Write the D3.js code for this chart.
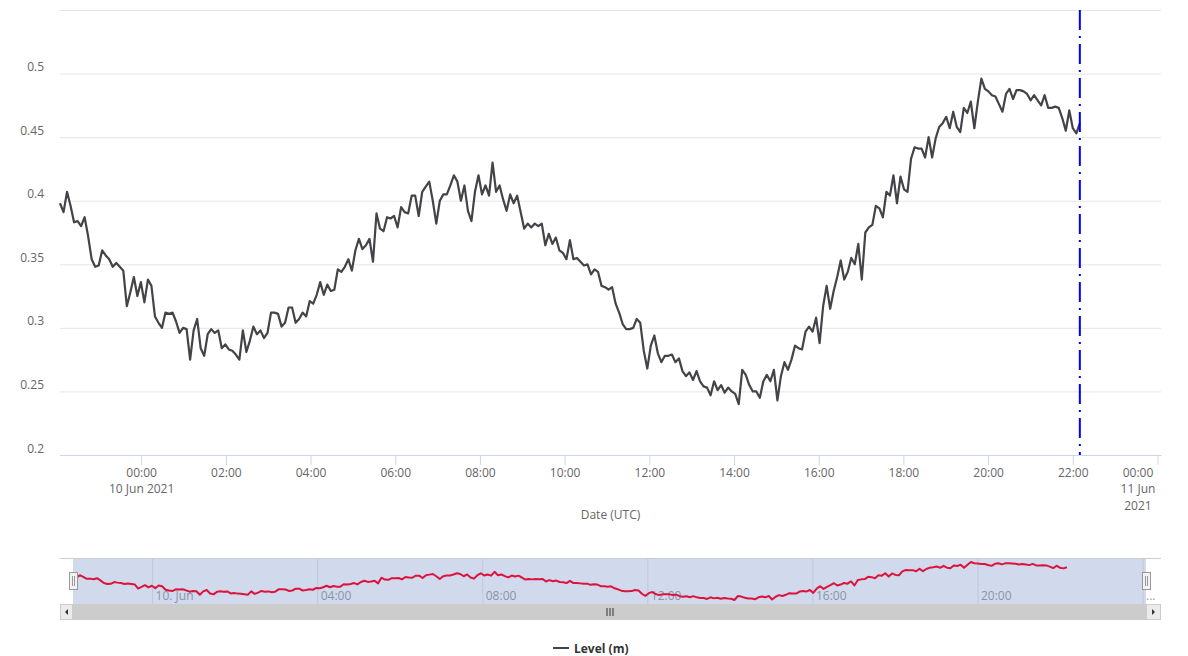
<!DOCTYPE html>
<html>
<head>
<meta charset="utf-8">
<script src="https://cdn.jsdelivr.net/npm/d3@7"></script>
<style>
    body { margin: 0; background: #fff; }
    #level-vis { width: 1188px; height: 656px; }
    text { font-family: "Open Sans", "DejaVu Sans", sans-serif; }
</style>
</head>
<body>
<div id="level-vis"></div>
<script>

// level readings, one every ~5 min from seriesStart to seriesEnd
var levelValues = [
    0.398, 0.391, 0.407, 0.396, 0.383, 0.384, 0.380, 0.387, 0.372, 0.354,
    0.348, 0.349, 0.361, 0.357, 0.354, 0.348, 0.351, 0.348, 0.345, 0.317,
    0.328, 0.340, 0.325, 0.336, 0.320, 0.338, 0.333, 0.309, 0.304, 0.300,
    0.312, 0.311, 0.312, 0.305, 0.296, 0.300, 0.299, 0.275, 0.298, 0.307,
    0.284, 0.278, 0.295, 0.299, 0.296, 0.298, 0.284, 0.287, 0.283, 0.282,
    0.279, 0.275, 0.298, 0.281, 0.290, 0.301, 0.295, 0.298, 0.292, 0.296,
    0.312, 0.312, 0.311, 0.301, 0.304, 0.316, 0.316, 0.304, 0.307, 0.312,
    0.309, 0.321, 0.319, 0.326, 0.336, 0.326, 0.334, 0.329,
    0.330, 0.346, 0.344, 0.348, 0.354, 0.345, 0.361, 0.370, 0.362, 0.365,
    0.370, 0.352, 0.390, 0.378, 0.376, 0.387, 0.386, 0.388, 0.379, 0.395,
    0.391, 0.390, 0.404, 0.404, 0.388, 0.407, 0.411, 0.415, 0.400, 0.382,
    0.400, 0.405, 0.405, 0.412, 0.420, 0.415, 0.400, 0.412, 0.392, 0.384,
    0.407, 0.420, 0.405, 0.412, 0.404, 0.430, 0.407, 0.412, 0.401, 0.392,
    0.405, 0.398, 0.404, 0.391, 0.378, 0.382, 0.379, 0.382, 0.380, 0.382,
    0.365, 0.374, 0.366, 0.371, 0.361, 0.359, 0.354, 0.369, 0.354, 0.355,
    0.352, 0.349, 0.350, 0.342, 0.346, 0.344, 0.333,
    0.332, 0.330, 0.332, 0.319, 0.312, 0.303, 0.299, 0.299, 0.300, 0.307,
    0.304, 0.282, 0.268, 0.286, 0.294, 0.280, 0.273, 0.278, 0.278, 0.279,
    0.273, 0.276, 0.266, 0.262, 0.265, 0.259, 0.266, 0.258, 0.254, 0.253,
    0.247, 0.258, 0.251, 0.255, 0.249, 0.253, 0.250, 0.248, 0.240, 0.267,
    0.263, 0.255, 0.250, 0.250, 0.245, 0.258, 0.263, 0.258, 0.267, 0.243,
    0.262, 0.273, 0.267, 0.275, 0.286, 0.284, 0.283, 0.297, 0.301, 0.297,
    0.308, 0.288, 0.317, 0.333, 0.315, 0.329, 0.340, 0.353, 0.338, 0.344,
    0.355, 0.350, 0.366, 0.338, 0.375, 0.379, 0.381,
    0.396, 0.394, 0.387, 0.407, 0.404, 0.420, 0.398, 0.419, 0.409, 0.407,
    0.433, 0.442, 0.441, 0.441, 0.434, 0.450, 0.434, 0.449, 0.458, 0.461,
    0.466, 0.457, 0.470, 0.458, 0.454, 0.473, 0.469, 0.478, 0.457, 0.478,
    0.496, 0.488, 0.486, 0.483, 0.482, 0.476, 0.470, 0.484, 0.488, 0.480,
    0.487, 0.487, 0.486, 0.484, 0.479, 0.483, 0.479, 0.475, 0.483, 0.473,
    0.473, 0.474, 0.473, 0.465, 0.455, 0.471, 0.457, 0.453, 0.461
];
var seriesStart = new Date("2021-06-09T22:05:00Z");
var seriesEnd = new Date("2021-06-10T22:10:00Z");
var axisStart = new Date("2021-06-09T22:05:00Z");
var axisEnd = new Date("2021-06-11T00:05:00Z");
var markerTime = new Date("2021-06-10T22:10:00Z");

var yTicks = [0.2, 0.25, 0.3, 0.35, 0.4, 0.45, 0.5, 0.55];
var yLabelMax = 0.5;
var midnightLines = [["10 Jun 2021"], ["11 Jun", "2021"]];
var navTickLabels = ["10. Jun", "04:00", "08:00", "12:00", "16:00", "20:00", "..."];
var seriesName = "Level (m)";
var xTitle = "Date (UTC)";


function LevelChart() {
    var self = this;
    self.init();
};

LevelChart.prototype.init = function () {
    var self = this;
    self.plot = { left: 60, right: 1161, top: 10, bottom: 455 };
    self.nav = { left: 73, right: 1146, top: 558, bottom: 604, lineTop: 562, lineBottom: 600 };

    var div = d3.select("#level-vis");
    self.svg = div.append("svg")
        .attr("width", 1188)
        .attr("height", 656);
};

LevelChart.prototype.update = function () {
    var self = this;
    var svg = self.svg;
    var p = self.plot;
    var n = self.nav;

    var step = (seriesEnd - seriesStart) / (levelValues.length - 1);
    var data = levelValues.map(function (v, i) {
        return { t: new Date(+seriesStart + i * step), v: v };
    });

    var x = d3.scaleUtc().domain([axisStart, axisEnd]).range([p.left, p.right]);
    var y = d3.scaleLinear().domain([0.2, 0.55]).range([p.bottom, p.top]);

    // Y AXIS + GRIDLINES
    var yAxis = svg.append("g")
        .attr("transform", "translate(" + p.left + ",0)")
        .call(d3.axisLeft(y)
            .tickValues(yTicks)
            .tickSize(-(p.right - p.left))
            .tickPadding(16)
            .tickFormat(function (d) { return d > yLabelMax ? "" : String(d); }));
    yAxis.select(".domain").remove();
    yAxis.selectAll(".tick line").attr("stroke", "#e6e6e6");
    yAxis.selectAll(".tick text")
        .attr("fill", "#666")
        .attr("font-size", 12)
        .attr("dy", -3);

    // X AXIS
    var xAxis = svg.append("g")
        .attr("transform", "translate(0," + p.bottom + ")")
        .call(d3.axisBottom(x)
            .ticks(d3.utcHour.every(2))
            .tickSize(10)
            .tickSizeOuter(0)
            .tickFormat(d3.utcFormat("%H:%M")));
    xAxis.select(".domain").attr("stroke", "#ccd6eb");
    xAxis.selectAll(".tick line").attr("stroke", "#ccd6eb");
    var midnight = 0;
    xAxis.selectAll(".tick text")
        .attr("fill", "#666")
        .attr("font-size", 12)
        .each(function (d) {
            if (d.getUTCHours() == 0) {
                var lines = midnightLines[midnight] || [];
                midnight += 1;
                var txt = d3.select(this);
                // last label is pushed left to stay inside the chart
                var shift = x(d) > p.right - 30 ? -20 : 0;
                txt.attr("x", shift);
                lines.forEach(function (l) {
                    txt.append("tspan").attr("x", shift).attr("dy", "1.38em").text(l);
                });
            }
        });

    svg.append("text")
        .attr("x", (p.left + p.right) / 2)
        .attr("y", 519)
        .attr("text-anchor", "middle")
        .attr("fill", "#666")
        .attr("font-size", 12)
        .text(xTitle);

    // LEVEL LINE
    var line = d3.line()
        .x(function (d) { return x(d.t); })
        .y(function (d) { return y(d.v); });

    svg.append("path")
        .datum(data)
        .attr("d", line)
        .attr("fill", "none")
        .attr("stroke", "#434348")
        .attr("stroke-width", 2.2)
        .attr("stroke-linejoin", "round");

    // "now" marker
    svg.append("line")
        .attr("x1", x(markerTime)).attr("x2", x(markerTime))
        .attr("y1", p.top).attr("y2", p.bottom)
        .attr("stroke", "#0000ff")
        .attr("stroke-width", 2)
        .attr("stroke-dasharray", "20,6,2,6");

    // NAVIGATOR
    var nx = d3.scaleUtc().domain([axisStart, axisEnd]).range([n.left, n.right]);
    var ny = d3.scaleLinear().domain(d3.extent(levelValues)).range([n.lineBottom, n.lineTop]);

    var navAxis = svg.append("g")
        .attr("transform", "translate(0," + n.bottom + ")")
        .call(d3.axisBottom(nx)
            .ticks(d3.utcHour.every(4))
            .tickSize(-(n.bottom - n.top))
            .tickSizeOuter(0)
            .tickFormat(function (d, i) { return navTickLabels[i]; }));
    navAxis.select(".domain").remove();
    navAxis.selectAll(".tick line").attr("stroke", "#e6e6e6");
    navAxis.selectAll(".tick text")
        .attr("fill", "#999")
        .attr("font-size", 12)
        .attr("text-anchor", "start")
        .attr("x", 3)
        .attr("y", -4)
        .attr("dy", 0);

    svg.append("rect")
        .attr("x", n.left).attr("y", n.top)
        .attr("width", n.right - n.left).attr("height", n.bottom - n.top)
        .attr("fill", "rgba(102,133,194,0.3)");

    svg.append("line")
        .attr("x1", p.left).attr("x2", p.right)
        .attr("y1", n.top + 0.5).attr("y2", n.top + 0.5)
        .attr("stroke", "#cccccc");

    var navLine = d3.line()
        .x(function (d) { return nx(d.t); })
        .y(function (d) { return ny(d.v); });

    svg.append("path")
        .datum(data)
        .attr("d", navLine)
        .attr("fill", "none")
        .attr("stroke", "#dc143c")
        .attr("stroke-width", 2)
        .attr("stroke-linejoin", "round");

    // SCROLLBAR
    var sbTop = 604, sbH = 16;
    svg.append("rect")
        .attr("x", p.left).attr("y", sbTop)
        .attr("width", p.right - p.left).attr("height", sbH)
        .attr("fill", "#f2f2f2");
    svg.append("rect")
        .attr("x", n.left).attr("y", sbTop)
        .attr("width", n.right - n.left).attr("height", sbH)
        .attr("fill", "#cccccc");
    [[p.left, n.left, -1], [n.right, p.right, 1]].forEach(function (b) {
        svg.append("rect")
            .attr("x", b[0] + 0.5).attr("y", sbTop + 0.5)
            .attr("width", b[1] - b[0] - 1).attr("height", sbH - 1)
            .attr("fill", "#ebebeb")
            .attr("stroke", "#cccccc");
        var cx = (b[0] + b[1]) / 2, cy = sbTop + sbH / 2;
        svg.append("path")
            .attr("d", "M" + (cx - 1.5 * b[2]) + "," + (cy - 3) + "L" + (cx + 1.5 * b[2]) + "," + cy +
                "L" + (cx - 1.5 * b[2]) + "," + (cy + 3) + "Z")
            .attr("fill", "#333");
    });
    var gx = (n.left + n.right) / 2;
    [-3, 0, 3].forEach(function (o) {
        svg.append("line")
            .attr("x1", gx + o + 0.5).attr("x2", gx + o + 0.5)
            .attr("y1", sbTop + 4).attr("y2", sbTop + 12)
            .attr("stroke", "#333");
    });

    // handles
    [n.left, n.right].forEach(function (hx) {
        svg.append("rect")
            .attr("x", hx - 3.5).attr("y", 572.5)
            .attr("width", 8).attr("height", 17)
            .attr("fill", "#f2f2f2")
            .attr("stroke", "#999");
        [-1, 1].forEach(function (o) {
            svg.append("line")
                .attr("x1", hx + 0.5 + o).attr("x2", hx + 0.5 + o)
                .attr("y1", 576).attr("y2", 586)
                .attr("stroke", "#999");
        });
    });

    // LEGEND
    var legend = svg.append("g").attr("transform", "translate(553,648)");
    legend.append("line")
        .attr("x1", 0).attr("x2", 16)
        .attr("stroke", "#434348")
        .attr("stroke-width", 2);
    legend.append("text")
        .attr("x", 21).attr("y", 4.5)
        .attr("fill", "#333")
        .attr("font-size", 12)
        .attr("font-weight", "bold")
        .text(seriesName);
};

var chart = new LevelChart();
chart.update();

</script>
</body>
</html>
